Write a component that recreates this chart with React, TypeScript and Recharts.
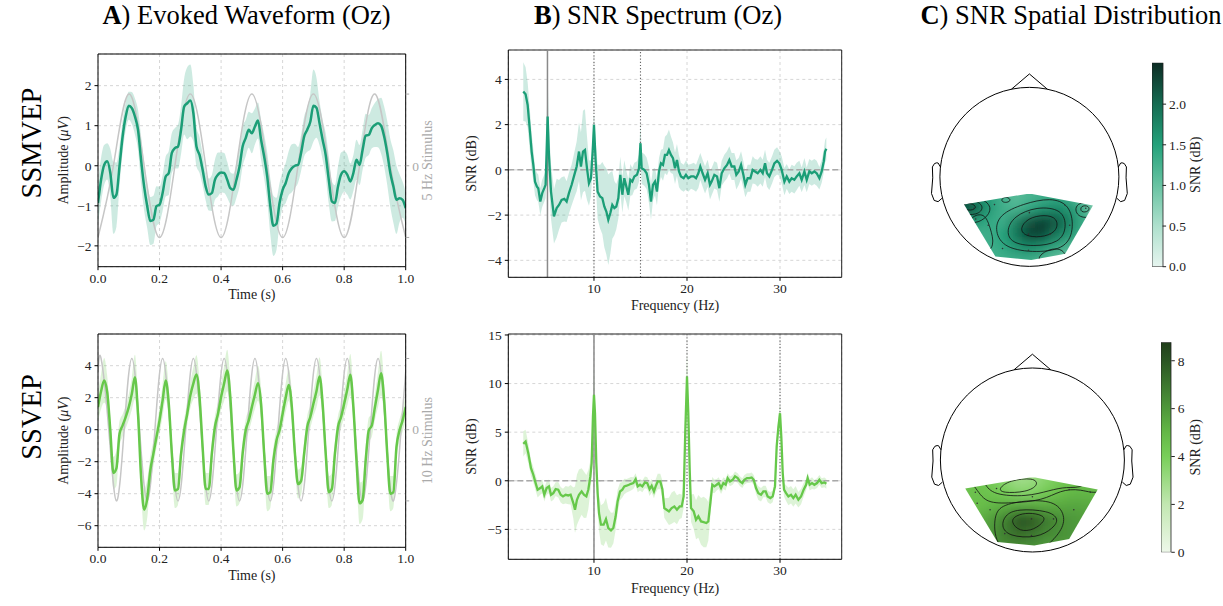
import React from 'react';
import {
  ComposedChart,
  Line,
  Area,
  XAxis,
  YAxis,
  CartesianGrid,
  ReferenceLine,
  ScatterChart,
  Scatter,
  BarChart,
  Bar,
  Curve,
} from 'recharts';

const FONT = '"Liberation Serif", "Times New Roman", serif';
const TEAL = '#1b9e77';
const GREEN = '#66c84a';

// ---- A) evoked waveforms (Oz), 0.01 s grid ----
const waveTime = Array.from({ length: 101 }, (_, i) => +(i / 100).toFixed(2));

const ssmvepWave = [
  -0.93, -0.35, 0.02, 0.11, -0.18, -0.8, -0.72, 0, 0.73, 1.23,
  1.5, 1.44, 1.23, 0.9, 0.15, -0.52, -1.01, -1.38, -1.35, -1.01,
  -0.97, -0.68, -0.27, -0.18, 0.32, 0.44, 0.48, 0.9, 1.48, 1.56,
  1.63, 1.31, 0.48, 0.27, -0.1, -0.52, -0.72, -0.68, -0.35, -0.22,
  -0.17, -0.18, -0.35, -0.56, -0.6, -0.35, -0.02, 0.48, 0.69, 0.9,
  0.81, 0.98, 1.13, 0.65, 0.23, -0.27, -1.01, -1.5, -1.45, -0.93,
  -0.6, -0.43, -0.18, -0.06, 0, 0.02, 0.32, 0.73, 0.9, 1.1,
  1.5, 1.45, 1.06, 0.65, 0.27, -0.35, -0.89, -0.93, -0.52, -0.22,
  -0.14, -0.22, -0.39, -0.18, 0.15, 0.02, 0.4, 0.75, 0.77, 0.94,
  1.02, 1.06, 1.0, 0.73, 0.32, -0.18, -0.52, -0.85, -0.81, -0.85,
  -1.06,
];
const ssmvepSpread = [
  0.5, 0.55, 0.5, 0.45, 0.6, 0.9, 0.8, 0.5, 0.4, 0.35,
  0.35, 0.4, 0.45, 0.5, 0.6, 0.6, 0.55, 0.6, 0.6, 0.5,
  0.45, 0.45, 0.5, 0.55, 0.5, 0.5, 0.55, 0.6, 0.7, 0.9,
  0.9, 0.7, 0.5, 0.45, 0.4, 0.35, 0.4, 0.45, 0.5, 0.55,
  0.5, 0.5, 0.45, 0.4, 0.4, 0.45, 0.5, 0.5, 0.45, 0.45,
  0.5, 0.45, 0.45, 0.5, 0.55, 0.6, 0.7, 0.75, 0.65, 0.5,
  0.45, 0.5, 0.55, 0.6, 0.55, 0.45, 0.45, 0.5, 0.55, 0.7,
  0.9, 0.75, 0.55, 0.5, 0.55, 0.6, 0.5, 0.45, 0.5, 0.55,
  0.5, 0.5, 0.45, 0.45, 0.5, 0.5, 0.5, 0.55, 0.5, 0.5,
  0.55, 0.6, 0.7, 0.75, 0.8, 0.85, 0.9, 0.85, 0.6, 0.45,
  0.4,
];
const ssvepWave = [
  1.41, 2.4, 3.08, 2.35, -0.04, -2.7, -2.4, -0.25, 0.27, 0.79,
  1.41, 2.25, 3.28, 1.0, -2.95, -5.0, -4.3, -2.54, -1.5, -0.46,
  0.58, 1.83, 3.08, 1.62, -1.5, -3.8, -3.7, -1.5, -0.04, 1.0,
  2.14, 2.9, 3.45, 2.04, -1.08, -3.7, -3.7, -1.5, 0.17, 1.0,
  2.04, 2.9, 3.7, 2.04, -1.29, -3.8, -3.6, -1.5, -0.04, 0.58,
  1.41, 2.2, 2.91, 1.62, -1.5, -4.0, -3.9, -1.91, -0.67, -0.04,
  1.0, 2.0, 2.8, 1.41, -1.5, -3.4, -3.2, -1.5, 0.17, 0.79,
  1.62, 2.4, 3.33, 1.62, -1.5, -3.9, -3.7, -1.5, 0.17, 0.79,
  1.62, 2.5, 3.43, 1.41, -1.91, -4.6, -4.4, -1.91, -0.04, 0.27,
  1.41, 2.5, 3.53, 1.83, -1.5, -4.0, -3.9, -1.08, -0.04, 0.58,
  1.41,
];
const ssvepSpread = [
  0.9, 1.1, 1.4, 1.0, 0.8, 1.0, 1.1, 0.8, 0.7, 0.7,
  0.8, 1.0, 1.4, 1.0, 1.0, 1.3, 1.2, 0.9, 0.8, 0.7,
  0.8, 1.0, 1.2, 1.0, 0.9, 1.1, 1.0, 0.8, 0.7, 0.7,
  0.8, 1.0, 1.2, 1.0, 0.9, 1.0, 1.0, 0.8, 0.7, 0.7,
  0.8, 1.1, 1.3, 1.0, 0.9, 1.0, 1.0, 0.8, 0.7, 0.7,
  0.8, 0.9, 1.1, 1.0, 0.9, 1.1, 1.0, 0.8, 0.7, 0.7,
  0.8, 0.9, 1.0, 1.0, 0.8, 0.9, 0.9, 0.8, 0.7, 0.7,
  0.8, 1.0, 1.2, 1.0, 0.9, 1.0, 1.0, 0.8, 0.7, 0.7,
  0.8, 1.0, 1.3, 1.0, 1.0, 1.3, 1.2, 0.9, 0.8, 0.7,
  0.8, 1.1, 1.4, 1.0, 0.9, 1.1, 1.0, 0.8, 0.7, 0.7,
  0.8,
];

// stimulus traces (right axis, normalised)
const stim5Time = [0, 0.05, 0.1, 0.15, 0.2, 0.25, 0.3, 0.35, 0.4, 0.45, 0.5, 0.55, 0.6, 0.65, 0.7, 0.75, 0.8, 0.85, 0.9, 0.95, 1.0];
const stim5Level = [-1, 0, 1, 0, -1, 0, 1, 0, -1, 0, 1, 0, -1, 0, 1, 0, -1, 0, 1, 0, -1];
const stim10Time = [
  0, 0.01, 0.035, 0.06, 0.085, 0.11, 0.135, 0.16, 0.185, 0.21, 0.235, 0.26, 0.285,
  0.31, 0.335, 0.36, 0.385, 0.41, 0.435, 0.46, 0.485, 0.51, 0.535, 0.56, 0.585,
  0.61, 0.635, 0.66, 0.685, 0.71, 0.735, 0.76, 0.785, 0.81, 0.835, 0.86, 0.885,
  0.91, 0.935, 0.96, 0.985, 1.0,
];
const stim10Level = [
  0.81, 1, 0, -1, 0, 1, 0, -1, 0, 1, 0, -1, 0,
  1, 0, -1, 0, 1, 0, -1, 0, 1, 0, -1, 0,
  1, 0, -1, 0, 1, 0, -1, 0, 1, 0, -1, 0,
  1, 0, -1, 0, 0.81,
];

// ---- B) SNR spectra (Oz) ----
const specFreqTop = [
  2.4, 2.65, 2.87, 3.12, 3.3, 3.48, 3.66, 3.87, 4.01, 4.23, 4.44, 4.66, 4.8, 5.02, 5.16,
  5.38, 5.7, 5.99, 6.24, 6.52, 6.81, 7.06, 7.31, 7.6, 7.89, 8.14, 8.39, 8.6, 8.82, 9.03,
  9.25, 9.46, 9.68, 9.86, 10.0, 10.18, 10.39, 10.65, 10.9, 11.11, 11.33, 11.54, 11.76, 11.97, 12.19,
  12.4, 12.62, 12.83, 13.05, 13.26, 13.48, 13.69, 13.91, 14.12, 14.34, 14.62, 14.84, 15.0, 15.13, 15.41,
  15.66, 15.91, 16.13, 16.34, 16.56, 16.77, 16.99, 17.2, 17.42, 17.63, 17.85, 18.06, 18.28, 18.49, 18.71,
  18.92, 19.14, 19.35, 19.64, 19.89, 20.14, 20.43, 20.72, 20.97, 21.22, 21.43, 21.68, 21.94, 22.22, 22.47,
  22.65, 22.94, 23.23, 23.48, 23.73, 24.01, 24.3, 24.55, 24.8, 25.09, 25.3, 25.56, 25.81, 26.06, 26.27,
  26.52, 26.81, 27.06, 27.31, 27.6, 27.89, 28.14, 28.39, 28.6, 28.85, 29.14, 29.39, 29.68, 29.93, 30.18,
  30.47, 30.72, 31.0, 31.25, 31.54, 31.79, 32.08, 32.33, 32.62, 32.87, 33.15, 33.41, 33.69, 33.94, 34.23,
  34.48, 34.7, 34.84, 34.98,
];
const specSnrTop = [
  3.46, 3.34, 2.87, 1.69, 0.81, 0.22, -0.52, -0.74, -0.81, -1.4, -1.03, -0.81, -0.66, 2.36, 0.66,
  -0.96, -2.06, -1.69, -1.55, -1.33, -1.28, -1.4, -1.03, -0.66, -0.22, 0.15, 0.81, 0.15, 0.81, 0.88,
  0.07, -0.59, -0.37, 0.81, 1.99, 0.37, -0.96, -1.18, -1.25, -1.62, -1.84, -2.21, -1.91, -1.55, -1.69,
  -1.62, -1.25, -0.22, -1.1, -0.37, -0.74, -1.1, -0.44, -0.52, -0.29, -0.22, 0.07, 1.18, 0.07, 0,
  -0.15, -0.66, -1.4, -0.66, -0.52, -0.96, -0.07, 0.29, 0.22, 0.66, 0.66, 0.88, 0.66, 0.52, 0.07,
  0.44, -0.07, -0.29, -0.37, -0.22, -0.37, -0.29, -0.29, -0.37, -0.15, 0.15, -0.15, -0.44, -0.15, -0.66,
  -0.52, -0.22, -0.29, -0.81, -0.15, 0.07, 0.22, 0.44, 0.15, 0.15, -0.22, -0.07, 0.22, -0.22, -0.66,
  -0.37, -0.37, 0, -0.07, -0.15, 0, -0.15, 0.29, -0.15, -0.29, 0, 0.29, 0.4, 0.29, 0,
  -0.52, -0.29, -0.52, -0.37, -0.44, -0.29, -0.15, -0.44, -0.07, -0.44, -0.07, -0.15, -0.07, -0.15, -0.37,
  -0.07, 0.37, 0.81, 0.93,
];
const specSpreadTop = [
  1.3, 1.2, 1.0, 0.9, 0.8, 0.7, 0.6, 0.6, 0.6, 0.6, 0.6, 0.6, 0.6, 1.9, 1.2,
  1.2, 1.2, 1.3, 1.1, 1.0, 1.0, 0.9, 0.9, 0.9, 1.0, 1.1, 1.3, 1.5, 1.8, 1.8,
  1.4, 1.0, 0.8, 0.7, 0.5, 0.9, 1.2, 1.4, 1.6, 1.8, 1.9, 2.0, 1.8, 1.5, 1.2,
  1.0, 0.9, 0.8, 0.8, 0.8, 0.7, 0.7, 0.7, 0.6, 0.6, 0.6, 0.6, 0.9, 0.7, 0.7,
  0.7, 0.8, 0.8, 0.7, 0.6, 0.6, 0.6, 0.6, 0.7, 0.8, 0.9, 0.9, 0.8, 0.7, 0.7,
  0.7, 0.7, 0.6, 0.6, 0.65, 0.6, 0.55, 0.6, 0.6, 0.65, 0.6, 0.6, 0.6, 0.6, 0.65,
  0.6, 0.6, 0.6, 0.6, 0.55, 0.6, 0.6, 0.6, 0.6, 0.6, 0.65, 0.6, 0.6, 0.6, 0.55,
  0.6, 0.6, 0.6, 0.55, 0.6, 0.6, 0.6, 0.6, 0.6, 0.6, 0.6, 0.6, 0.6, 0.55, 0.6,
  0.6, 0.55, 0.55, 0.6, 0.6, 0.6, 0.55, 0.55, 0.6, 0.55, 0.55, 0.55, 0.55, 0.55, 0.5,
  0.5, 0.5, 0.5, 0.5,
];

const specFreqBottom = [
  2.4, 2.65, 2.94, 3.23, 3.48, 3.73, 3.94, 4.23, 4.44, 4.66, 4.91, 5.16, 5.38, 5.63, 5.88,
  6.16, 6.42, 6.67, 6.95, 7.24, 7.49, 7.78, 7.96, 8.17, 8.39, 8.67, 8.92, 9.18, 9.39, 9.61,
  9.75, 9.89, 10.0, 10.11, 10.25, 10.39, 10.54, 10.75, 11.04, 11.29, 11.54, 11.83, 12.08, 12.33, 12.54,
  12.8, 13.05, 13.26, 13.51, 13.76, 13.98, 14.23, 14.48, 14.7, 14.95, 15.2, 15.48, 15.73, 15.98, 16.2,
  16.45, 16.63, 16.85, 17.13, 17.35, 17.56, 17.81, 18.06, 18.35, 18.64, 18.92, 19.21, 19.43, 19.64, 19.82,
  20.0, 20.14, 20.29, 20.43, 20.72, 20.97, 21.22, 21.51, 21.79, 22.08, 22.29, 22.51, 22.72, 22.94, 23.19,
  23.41, 23.66, 23.91, 24.16, 24.37, 24.62, 24.91, 25.16, 25.45, 25.7, 25.95, 26.16, 26.45, 26.7, 26.95,
  27.17, 27.42, 27.67, 27.96, 28.21, 28.46, 28.67, 28.96, 29.21, 29.46, 29.64, 29.82, 30.0, 30.14, 30.29,
  30.43, 30.65, 30.9, 31.18, 31.43, 31.68, 31.97, 32.26, 32.54, 32.8, 32.97, 33.19, 33.44, 33.69, 33.98,
  34.23, 34.48, 34.77, 34.98,
];
const specSnrBottom = [
  3.8, 4.04, 2.84, 1.3, 0.62, -0.24, -0.92, -0.75, -0.58, -1.44, -0.75, -0.58, -1.44, -1.27, -0.86,
  -0.92, -1.44, -1.61, -1.44, -1.51, -1.44, -2.29, -2.98, -1.95, -1.44, -1.1, -1.44, -1.61, -0.92, 0.45,
  1.82, 6.61, 8.84, 6.95, 1.82, -1.27, -3.32, -4.52, -4.52, -3.94, -4.86, -5.1, -4.86, -3.66, -2.12,
  -1.1, -0.92, -0.58, -0.51, -0.41, -0.31, -0.24, 0.17, -0.58, -0.41, -0.58, -0.17, -0.24, -0.86, -0.51,
  -1.1, -0.58, -0.07, -0.07, -0.86, -2.81, -2.98, -3.15, -2.81, -2.64, -2.98, -2.64, -2.64, -1.61, 5.24,
  10.72, 6.95, 1.13, -2.81, -3.15, -4.01, -3.66, -4.18, -4.25, -4.35, -4.18, -2.29, -0.41, -0.58, -0.41,
  -0.24, -0.75, -0.24, -0.41, 0.27, -0.07, 0.1, 0.45, 0.27, -0.07, -0.24, 0.1, 0.27, 0.27, 0.34,
  0.1, -0.75, -1.27, -1.44, -1.1, -1.1, -1.61, -1.78, -1.61, -0.58, 3.53, 5.5, 6.95, 4.5, 0.8,
  -0.92, -1.27, -1.61, -1.44, -1.78, -1.44, -1.95, -1.61, -0.92, -0.41, 0.27, -0.41, -0.24, -0.41, -0.24,
  0.1, -0.24, -0.17, -0.31,
];
const specSpreadBottom = [
  1.3, 1.2, 1.0, 0.8, 0.8, 0.8, 0.8, 0.7, 0.7, 0.7, 0.7, 0.7, 0.7, 0.7, 0.7,
  0.8, 0.8, 0.8, 0.9, 0.9, 1.0, 1.6, 2.4, 2.6, 2.6, 2.4, 2.4, 2.2, 2.0, 1.6,
  1.4, 2.0, 3.0, 2.0, 1.5, 1.5, 1.8, 2.0, 2.2, 2.2, 2.0, 1.8, 1.6, 1.4, 1.2,
  0.9, 0.8, 0.8, 0.7, 0.7, 0.7, 0.6, 0.6, 0.6, 0.6, 0.6, 0.6, 0.6, 0.7, 0.7,
  0.7, 0.7, 0.8, 0.8, 0.9, 1.0, 1.2, 1.4, 1.6, 1.6, 1.5, 1.3, 1.2, 1.2, 1.5,
  2.5, 1.5, 1.5, 1.4, 1.8, 2.0, 2.2, 2.4, 2.6, 2.5, 2.0, 1.4, 0.8, 0.7, 0.6,
  0.6, 0.6, 0.6, 0.6, 0.5, 0.5, 0.5, 0.5, 0.5, 0.5, 0.5, 0.5, 0.5, 0.5, 0.5,
  0.5, 0.6, 0.7, 0.7, 0.6, 0.6, 0.6, 0.6, 0.6, 0.6, 0.8, 1.0, 1.0, 0.8, 0.8,
  0.7, 0.8, 0.9, 0.9, 0.9, 0.9, 0.8, 0.8, 0.7, 0.6, 0.6, 0.6, 0.6, 0.5, 0.5,
  0.5, 0.5, 0.5, 0.5,
];

// ---- C) topomaps: head units (radius 1), grid of SNR ----
const topoCols = [-0.9, -0.75, -0.6, -0.45, -0.3, -0.15, 0, 0.15, 0.3, 0.45, 0.6, 0.75, 0.9];
const topoRows = [-0.05, -0.2, -0.35, -0.5, -0.65, -0.8, -0.95, -1.1];
const ssmvepTopo = [
  [1.9, 1.9, 1.7, 1.4, 1.3, 1.2, 1.2, 1.3, 1.3, 1.2, 1.0, 0.8, 0.8],
  [2.0, 2.0, 1.8, 1.5, 1.3, 1.1, 1.2, 1.3, 1.4, 1.3, 1.1, 0.9, 0.8],
  [2.3, 2.4, 2.1, 1.6, 1.3, 1.2, 1.4, 1.6, 1.7, 1.6, 1.3, 0.8, 0.7],
  [1.8, 1.7, 1.6, 1.4, 1.3, 1.8, 2.2, 2.4, 2.2, 1.8, 1.4, 1.1, 1.0],
  [1.4, 1.4, 1.3, 1.3, 1.5, 1.9, 2.35, 2.3, 1.9, 1.6, 1.3, 1.1, 1.0],
  [1.3, 1.3, 1.3, 1.3, 1.4, 1.6, 1.7, 1.6, 1.4, 1.2, 1.1, 1.0, 1.0],
  [1.2, 1.2, 1.2, 1.2, 1.3, 1.3, 1.3, 1.2, 1.0, 0.9, 0.9, 0.9, 0.9],
  [1.2, 1.2, 1.2, 1.2, 1.3, 1.3, 1.3, 1.2, 1.0, 0.9, 0.9, 0.9, 0.9],
];
const ssvepTopo = [
  [4.6, 4.6, 4.5, 4.3, 3.6, 3.0, 3.2, 3.8, 4.3, 4.6, 4.8, 4.8, 4.8],
  [4.6, 4.6, 4.5, 4.2, 3.4, 2.8, 3.0, 3.6, 4.2, 4.6, 4.8, 4.8, 4.8],
  [4.6, 4.6, 4.6, 4.5, 4.1, 3.6, 3.7, 4.2, 4.7, 5.0, 5.0, 4.9, 4.9],
  [4.6, 4.6, 4.7, 5.0, 5.3, 5.5, 5.5, 5.4, 5.5, 5.6, 5.5, 5.3, 5.3],
  [4.8, 4.8, 5.2, 5.8, 6.6, 8.3, 8.1, 7.0, 6.3, 6.0, 5.8, 5.6, 5.6],
  [5.0, 5.0, 5.4, 6.0, 6.8, 7.3, 7.1, 6.5, 6.2, 6.0, 6.0, 6.0, 6.0],
  [5.5, 5.5, 5.8, 6.2, 6.4, 6.4, 6.2, 6.0, 6.0, 6.0, 6.0, 6.0, 6.0],
  [5.5, 5.5, 5.8, 6.2, 6.4, 6.4, 6.2, 6.0, 6.0, 6.0, 6.0, 6.0, 6.0],
];

const sensorHull = [
  { x: -0.73, y: -0.31 }, { x: -0.03, y: -0.19 }, { x: 0.03, y: -0.19 }, { x: 0.71, y: -0.32 },
  { x: 0.4, y: -0.86 }, { x: 0.02, y: -0.93 }, { x: -0.38, y: -0.89 },
];
const sensors = [
  { x: -0.62, y: -0.35 }, { x: -0.46, y: -0.54 }, { x: -0.3, y: -0.8 }, { x: -0.01, y: -0.82 },
  { x: 0.23, y: -0.64 }, { x: 0.45, y: -0.54 }, { x: 0.4, y: -0.32 }, { x: 0.63, y: -0.35 },
  { x: -0.01, y: -0.64 }, { x: -0.39, y: -0.31 }, { x: 0.0, y: -0.4 }, { x: -0.6, y: -0.47 },
];
const noseLine = [{ x: -0.2, y: 0.98 }, { x: 0, y: 1.15 }, { x: 0.2, y: 0.98 }];
const earX = [0.994, 1.02, 1.036, 1.06, 1.084, 1.08, 1.094, 1.064, 1.02, 0.978];
const earY = [0.111, 0.155, 0.157, 0.149, 0.111, -0.011, -0.186, -0.263, -0.277, -0.24];

const ssmvepContours = [
  [[-0.11, -0.58], [-0.02, -0.46], [0.17, -0.42], [0.32, -0.46], [0.31, -0.62], [0.12, -0.68], [-0.05, -0.66]],
  [[-0.26, -0.61], [-0.18, -0.44], [0.08, -0.33], [0.37, -0.36], [0.42, -0.56], [0.34, -0.74], [0.04, -0.78], [-0.2, -0.74]],
  [[-0.39, -0.61], [-0.34, -0.42], [-0.07, -0.3], [0.24, -0.23], [0.45, -0.31], [0.5, -0.56], [0.42, -0.8], [0.08, -0.85], [-0.28, -0.8]],
  [[-0.74, -0.3], [-0.65, -0.29], [-0.58, -0.34], [-0.65, -0.38], [-0.75, -0.36]],
  [[-0.8, -0.27], [-0.6, -0.25], [-0.5, -0.34], [-0.58, -0.43], [-0.78, -0.42]],
  [[-0.84, -0.24], [-0.56, -0.21], [-0.4, -0.34], [-0.5, -0.48], [-0.64, -0.53], [-0.84, -0.47]],
  [[-0.31, -0.24], [-0.25, -0.22], [-0.2, -0.26], [-0.25, -0.29], [-0.31, -0.28]],
  [[0.57, -0.32], [0.67, -0.32], [0.67, -0.39], [0.57, -0.4]],
  [[0.5, -0.28], [0.76, -0.28], [0.74, -0.46], [0.52, -0.46]],
  [[0.08, -0.9], [0.22, -0.8], [0.38, -0.8], [0.43, -0.94], [0.14, -0.98]],
  [[-0.66, -0.44], [-0.5, -0.4], [-0.44, -0.56], [-0.38, -0.78], [-0.52, -0.88], [-0.7, -0.6]],
];
const ssvepContours = [
  [[-0.24, -0.67], [-0.18, -0.6], [-0.04, -0.57], [0.12, -0.6], [0.14, -0.66], [0.02, -0.76], [-0.14, -0.78]],
  [[-0.34, -0.72], [-0.3, -0.6], [-0.17, -0.53], [0.18, -0.55], [0.29, -0.64], [0.23, -0.74], [0.05, -0.85], [-0.26, -0.83]],
  [[-0.41, -0.92], [-0.42, -0.6], [-0.33, -0.48], [0.01, -0.43], [0.28, -0.46], [0.37, -0.65], [0.28, -0.82], [0.12, -0.97], [-0.17, -1.1]],
  [[-0.6, -0.33], [-0.5, -0.47], [-0.24, -0.47], [0.12, -0.44], [0.3, -0.33], [0.52, -0.31], [0.76, -0.4], [0.95, -0.1], [-0.8, -0.05]],
  [[-0.52, -0.26], [-0.43, -0.38], [-0.06, -0.4], [0.19, -0.33], [0.37, -0.29], [0.56, -0.31], [0.7, -0.12], [-0.6, -0.1]],
  [[-0.37, -0.31], [-0.25, -0.22], [0.02, -0.19], [0.07, -0.27], [-0.06, -0.35], [-0.33, -0.36]],
];

const ssmvepStops: [number, string][] = [
  [0, '#e6f5ef'], [0.5, '#aee0cd'], [1.0, '#68c3a2'], [1.5, '#24a27b'], [2.0, '#156c52'], [2.51, '#0d2c24'],
];
const ssvepStops: [number, string][] = [
  [0, '#eef8ea'], [2, '#c2e7b1'], [4, '#78cf59'], [5, '#64b847'], [6, '#4e983a'], [8, '#2a5523'], [8.77, '#203e1b'],
];

const tickStyle = { fill: '#222', fontSize: 13.5, fontFamily: FONT };
const minus = (v: number) => String(v).replace('-', '\u2212');

function hexRgb(c: string) {
  return [1, 3, 5].map((i) => parseInt(c.slice(i, i + 2), 16));
}
function colorAt(stops: [number, string][], v: number) {
  if (v <= stops[0][0]) return stops[0][1];
  for (let i = 1; i < stops.length; i++) {
    if (v <= stops[i][0]) {
      const [a, ca] = stops[i - 1];
      const [b, cb] = stops[i];
      const f = (v - a) / (b - a);
      const A = hexRgb(ca);
      const B = hexRgb(cb);
      return `rgb(${A.map((x, k) => Math.round(x + (B[k] - x) * f)).join(',')})`;
    }
  }
  return stops[stops.length - 1][1];
}

const axisText = (text: any, x: number, y: number, opts: any = {}) => () => (
  <text
    x={x}
    y={y}
    textAnchor="middle"
    fontFamily={FONT}
    fontSize={14}
    fill={opts.fill || '#222'}
    transform={opts.rotate ? `rotate(-90, ${x}, ${y})` : undefined}
  >
    {text}
  </text>
);

const amplitudeLabel = (
  <>
    Amplitude (<tspan fontStyle="italic">μV</tspan>)
  </>
);

function WavePanel(p: any) {
  const rows = waveTime.map((t, i) => ({
    t,
    v: p.wave[i],
    band: [p.wave[i] - p.spread[i], p.wave[i] + p.spread[i]],
  }));
  const stimRows = p.stimTime.map((t: number, i: number) => ({ t, s: p.stimLevel[i] }));
  const midY = (p.plotTop + p.plotBottom) / 2;
  return (
    <div style={{ position: 'absolute', left: 0, top: p.top }}>
      <ComposedChart
        width={460}
        height={p.height}
        data={rows}
        margin={{ top: p.plotTop, right: 14.3, bottom: p.height - p.plotBottom - 30, left: 38 }}
      >
        <CartesianGrid yAxisId="left" stroke="#d6d6d6" strokeDasharray="3 3" />
        <XAxis
          dataKey="t"
          type="number"
          domain={[0, 1]}
          allowDataOverflow
          ticks={[0, 0.2, 0.4, 0.6, 0.8, 1]}
          tickFormatter={(v: number) => v.toFixed(1)}
          height={30}
          tickSize={3.5}
          tickMargin={3}
          stroke="#000"
          tick={tickStyle}
          label={axisText('Time (s)', 251.85, p.xLabelY)}
        />
        <YAxis
          yAxisId="left"
          type="number"
          domain={p.leftDomain}
          allowDataOverflow
          ticks={p.yTicks}
          tickFormatter={minus}
          width={60}
          tickSize={3.5}
          tickMargin={3}
          stroke="#000"
          tick={tickStyle}
          label={axisText(amplitudeLabel, 68, midY, { rotate: true })}
        />
        <YAxis
          yAxisId="right"
          orientation="right"
          type="number"
          domain={p.rightDomain}
          allowDataOverflow
          ticks={[-1, 0, 1]}
          tickFormatter={(v: number) => (v === 0 ? '0' : '')}
          width={40}
          tickSize={3.5}
          tickMargin={3}
          axisLine={{ stroke: '#000' }}
          tickLine={{ stroke: '#aaa' }}
          tick={{ ...tickStyle, fill: '#aaa' }}
          label={axisText(p.stimLabel, 432, midY, { rotate: true, fill: '#aaa' })}
        />
        <ReferenceLine yAxisId="left" y={p.leftDomain[1]} stroke="#000" />
        <Area
          yAxisId="left"
          dataKey="band"
          type="monotone"
          stroke="none"
          fill={p.color}
          fillOpacity={0.22}
          isAnimationActive={false}
        />
        <Line
          yAxisId="right"
          data={stimRows}
          dataKey="s"
          type="natural"
          stroke="#c6c6c6"
          strokeWidth={1.5}
          dot={false}
          isAnimationActive={false}
        />
        <Line
          yAxisId="left"
          dataKey="v"
          type="monotone"
          stroke={p.color}
          strokeWidth={2.5}
          dot={false}
          isAnimationActive={false}
        />
      </ComposedChart>
    </div>
  );
}

function SpectrumPanel(p: any) {
  const rows = p.freq.map((f: number, i: number) => {
    const s = p.spread[i] ?? 0.6;
    return { f, v: p.snr[i], band: [p.snr[i] - s, p.snr[i] + s] };
  });
  const midY = (p.plotTop + p.plotBottom) / 2;
  return (
    <div style={{ position: 'absolute', left: 440, top: p.top }}>
      <ComposedChart
        width={420}
        height={p.height}
        data={rows}
        margin={{ top: p.plotTop, right: 18.3, bottom: p.height - p.plotBottom - 30, left: 28.3 }}
      >
        <CartesianGrid stroke="#d6d6d6" strokeDasharray="3 3" />
        <XAxis
          dataKey="f"
          type="number"
          domain={[0.79, 36.63]}
          allowDataOverflow
          ticks={[10, 20, 30]}
          height={30}
          tickSize={3.5}
          tickMargin={3}
          stroke="#000"
          tick={tickStyle}
          label={axisText('Frequency (Hz)', 235, p.xLabelY)}
        />
        <YAxis
          type="number"
          domain={p.yDomain}
          allowDataOverflow
          ticks={p.yTicks}
          tickFormatter={minus}
          width={40}
          tickSize={3.5}
          tickMargin={3}
          stroke="#000"
          tick={tickStyle}
          label={axisText('SNR (dB)', 36, midY, { rotate: true })}
        />
        <ReferenceLine y={p.yDomain[1]} stroke="#222" />
        <ReferenceLine x={36.63} stroke="#222" />
        <ReferenceLine y={0} stroke="#a8a8a8" strokeWidth={1.5} strokeDasharray="6 3" />
        <ReferenceLine x={p.fundamental} stroke="#8a8a8a" strokeWidth={1.5} />
        {p.harmonics.map((h: number) => (
          <ReferenceLine key={h} x={h} stroke="#666" strokeWidth={1.1} strokeDasharray="1.2 2" />
        ))}
        <Area
          dataKey="band"
          type="linear"
          stroke="none"
          fill={p.color}
          fillOpacity={0.22}
          isAnimationActive={false}
        />
        <Line
          dataKey="v"
          type="linear"
          stroke={p.color}
          strokeWidth={2.3}
          dot={false}
          isAnimationActive={false}
        />
      </ComposedChart>
    </div>
  );
}

const blank = () => <g />;
const pathOf = (pts: any[], close: boolean) =>
  pts.map((q, i) => `${i ? 'L' : 'M'}${q.x},${q.y}`).join(' ') + (close ? ' Z' : '');

function Topomap(p: any) {
  const scale = p.scale;
  const size = 2.4 * scale;
  const cell = 0.15 * scale + 0.6;
  const cells = topoRows.flatMap((y, r) => topoCols.map((x, c) => ({ x, y, snr: p.grid[r][c] })));
  const leftEar = earX.map((x, i) => ({ x: -x, y: earY[i] }));
  const rightEar = earX.map((x, i) => ({ x, y: earY[i] }));
  return (
    <div style={{ position: 'absolute', left: p.left, top: p.top }}>
      <ScatterChart width={size} height={size} margin={{ top: 0, right: 0, bottom: 0, left: 0 }}>
        <XAxis type="number" dataKey="x" domain={[-1.2, 1.2]} allowDataOverflow hide />
        <YAxis type="number" dataKey="y" domain={[-1.15, 1.25]} allowDataOverflow hide />
        <Scatter
          data={sensorHull}
          shape={blank}
          isAnimationActive={false}
          line={(lp: any) => (
            <defs>
              <clipPath id={`clip-${p.id}`}>
                <path d={pathOf(lp.points, true)} />
              </clipPath>
              <filter id={`blur-${p.id}`} x="-20%" y="-20%" width="140%" height="140%">
                <feGaussianBlur stdDeviation={6} />
              </filter>
            </defs>
          )}
        />
        <Scatter
          data={cells}
          className={`field-${p.id}`}
          isAnimationActive={false}
          shape={(sp: any) => {
            const v = sp.payload ? sp.payload.snr : sp.snr;
            return (
              <rect
                x={sp.cx - cell / 2}
                y={sp.cy - cell / 2}
                width={cell}
                height={cell}
                fill={colorAt(p.stops, v)}
              />
            );
          }}
        />
        {p.contours.map((c: number[][], i: number) => (
          <Scatter
            key={i}
            data={c.map(([x, y]) => ({ x, y }))}
            shape={blank}
            isAnimationActive={false}
            line={(lp: any) => (
              <g clipPath={`url(#clip-${p.id})`}>
                <Curve points={lp.points} type="basisClosed" stroke="#111" strokeWidth={0.8} fill="none" />
              </g>
            )}
          />
        ))}
        <Scatter
          data={sensors}
          isAnimationActive={false}
          shape={(sp: any) => <circle cx={sp.cx} cy={sp.cy} r={0.8} fill="#333" />}
        />
        <Scatter
          data={[{ x: 0, y: 0 }]}
          isAnimationActive={false}
          shape={(sp: any) => <circle cx={sp.cx} cy={sp.cy} r={scale} fill="none" stroke="#000" strokeWidth={1} />}
        />
        <Scatter data={noseLine} shape={blank} line={{ stroke: '#000', strokeWidth: 1 }} lineJointType="linear" isAnimationActive={false} />
        <Scatter data={leftEar} shape={blank} line={{ stroke: '#000', strokeWidth: 1 }} lineJointType="linear" isAnimationActive={false} />
        <Scatter data={rightEar} shape={blank} line={{ stroke: '#000', strokeWidth: 1 }} lineJointType="linear" isAnimationActive={false} />
      </ScatterChart>
    </div>
  );
}

function Colorbar(p: any) {
  const W = 1223 - p.left;
  const yAxisW = 40;
  return (
    <div style={{ position: 'absolute', left: p.left, top: p.top }}>
      <BarChart
        width={W}
        height={p.height}
        data={[{ k: 'cb', v: p.max }]}
        barCategoryGap={0}
        margin={{ top: p.barTop, right: W - p.barWidth - yAxisW, bottom: p.height - p.barBottom, left: 0 }}
      >
        <XAxis dataKey="k" hide />
        <YAxis
          orientation="right"
          type="number"
          domain={[0, p.max]}
          allowDataOverflow
          ticks={p.ticks}
          tickFormatter={p.fmt}
          width={yAxisW}
          tickSize={3.5}
          tickMargin={3}
          axisLine={false}
          tickLine={{ stroke: '#222' }}
          tick={tickStyle}
          label={axisText('SNR (dB)', p.labelX, (p.barTop + p.barBottom) / 2, { rotate: true })}
        />
        <Bar
          dataKey="v"
          isAnimationActive={false}
          shape={(bp: any) => (
            <g>
              <defs>
                <linearGradient id={`cb-${p.id}`} x1="0" y1="1" x2="0" y2="0">
                  {p.stops.map(([v, c]: [number, string]) => (
                    <stop key={v} offset={v / p.max} stopColor={c} />
                  ))}
                </linearGradient>
              </defs>
              <rect x={bp.x} y={bp.y} width={bp.width} height={bp.height} fill={`url(#cb-${p.id})`} stroke="#222" strokeWidth={0.8} />
            </g>
          )}
        />
      </BarChart>
    </div>
  );
}

const css = `
.field-a { filter: url(#blur-a); clip-path: url(#clip-a); }
.field-b { filter: url(#blur-b); clip-path: url(#clip-b); }
`;

export default function App() {
  return (
    <div
      style={{
        position: 'absolute',
        left: 0,
        top: 0,
        width: 1223,
        height: 606,
        background: '#fff',
        overflow: 'hidden',
        fontFamily: FONT,
      }}
    >
      <style>{css}</style>

      <WavePanel
        top={0}
        height={320}
        plotTop={54}
        plotBottom={266.7}
        wave={ssmvepWave}
        spread={ssmvepSpread}
        stimTime={stim5Time}
        stimLevel={stim5Level}
        leftDomain={[-2.52, 2.79]}
        rightDomain={[-1.408, 1.559]}
        yTicks={[-2, -1, 0, 1, 2]}
        color={TEAL}
        stimLabel="5 Hz Stimulus"
        xLabelY={299}
      />
      <WavePanel
        top={300}
        height={306}
        plotTop={34}
        plotBottom={247.3}
        wave={ssvepWave}
        spread={ssvepSpread}
        stimTime={stim10Time}
        stimLevel={stim10Level}
        leftDomain={[-7.35, 5.98]}
        rightDomain={[-1.652, 1.344]}
        yTicks={[-6, -4, -2, 0, 2, 4]}
        color={GREEN}
        stimLabel="10 Hz Stimulus"
        xLabelY={280}
      />

      <SpectrumPanel
        top={0}
        height={320}
        plotTop={50}
        plotBottom={277.3}
        freq={specFreqTop}
        snr={specSnrTop}
        spread={specSpreadTop}
        yDomain={[-4.75, 5.3]}
        yTicks={[-4, -2, 0, 2, 4]}
        fundamental={5}
        harmonics={[10, 15]}
        color={TEAL}
        xLabelY={310}
      />
      <SpectrumPanel
        top={300}
        height={306}
        plotTop={34}
        plotBottom={259.3}
        freq={specFreqBottom}
        snr={specSnrBottom}
        spread={specSpreadBottom}
        yDomain={[-8.08, 15.1]}
        yTicks={[-5, 0, 5, 10, 15]}
        fundamental={10}
        harmonics={[20, 30]}
        color={GREEN}
        xLabelY={293}
      />

      <Topomap id="a" left={1029.3 - 1.2 * 89.5} top={176.7 - 1.25 * 89.5} scale={89.5} grid={ssmvepTopo} stops={ssmvepStops} contours={ssmvepContours} />
      <Topomap id="b" left={1032.3 - 1.2 * 92} top={460 - 1.25 * 92} scale={92} grid={ssvepTopo} stops={ssvepStops} contours={ssvepContours} />

      <Colorbar
        id="a"
        left={1151.7}
        top={0}
        height={280}
        barTop={62.7}
        barBottom={266.7}
        barWidth={10.6}
        max={2.51}
        ticks={[0, 0.5, 1, 1.5, 2]}
        fmt={(v: number) => v.toFixed(1)}
        stops={ssmvepStops}
        labelX={48}
      />
      <Colorbar
        id="b"
        left={1160.7}
        top={330}
        height={240}
        barTop={12.3}
        barBottom={222.3}
        barWidth={10.3}
        max={8.77}
        ticks={[0, 2, 4, 6, 8]}
        fmt={(v: number) => String(v)}
        stops={ssvepStops}
        labelX={39}
      />

      <svg width={1223} height={606} style={{ position: 'absolute', left: 0, top: 0, pointerEvents: 'none' }}>
        <g fontFamily={FONT} fontSize={26.5} fill="#000" textAnchor="middle">
          <text x={246.5} y={24}>
            <tspan fontWeight="bold">A</tspan>) Evoked Waveform (Oz)
          </text>
          <text x={658} y={24}>
            <tspan fontWeight="bold">B</tspan>) SNR Spectrum (Oz)
          </text>
          <text x={1071} y={24}>
            <tspan fontWeight="bold">C</tspan>) SNR Spatial Distribution
          </text>
        </g>
        <g fontFamily={FONT} fontSize={28.5} fill="#000" textAnchor="middle">
          <text x={41} y={143} transform="rotate(-90, 41, 143)">SSMVEP</text>
          <text x={41} y={417} transform="rotate(-90, 41, 417)">SSVEP</text>
        </g>
      </svg>
    </div>
  );
}
